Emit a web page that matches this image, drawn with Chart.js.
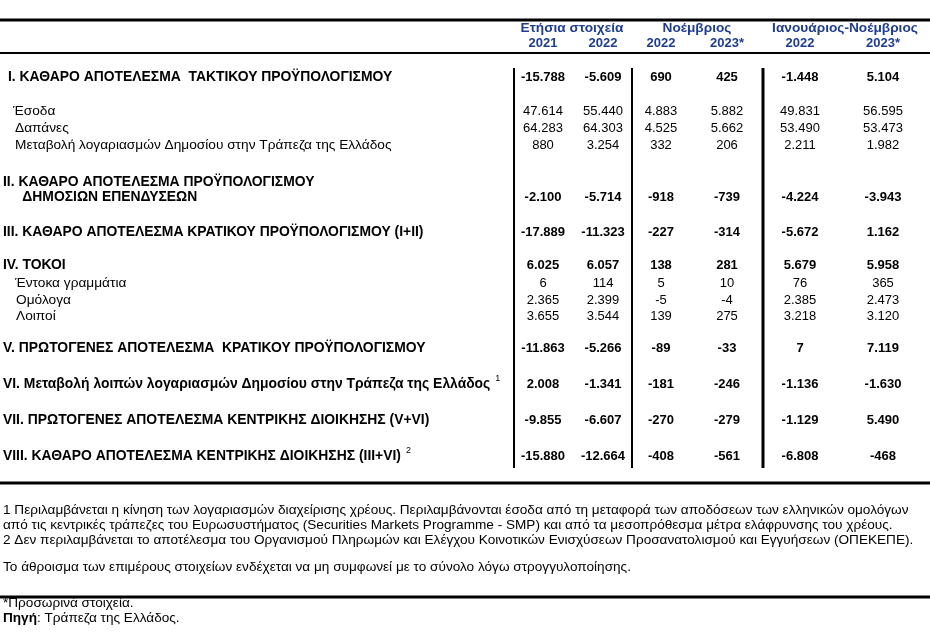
<!DOCTYPE html>
<html>
<head>
<meta charset="utf-8">
<script src="https://cdn.jsdelivr.net/npm/chart.js@4"></script>
<style>
  body { margin: 0; background: #fff; }
  #wrap { width: 930px; height: 632px; }
</style>
</head>
<body>
<div id="wrap"><canvas id="tbl" width="930" height="632"></canvas></div>
<script>
// Table contents (million euro)
const groupHeaders = ['Ετήσια στοιχεία', 'Νοέμβριος', 'Ιανουάριος-Νοέμβριος'];
const yearHeaders = ['2021', '2022', '2022', '2023*', '2022', '2023*'];

const rowLabels = [
  'I. ΚΑΘΑΡΟ ΑΠΟΤΕΛΕΣΜΑ  ΤΑΚΤΙΚΟΥ ΠΡΟΫΠΟΛΟΓΙΣΜΟΥ',
  'Έσοδα',
  'Δαπάνες',
  'Μεταβολή λογαριασμών Δημοσίου στην Τράπεζα της Ελλάδος',
  'II. ΚΑΘΑΡΟ ΑΠΟΤΕΛΕΣΜΑ ΠΡΟΫΠΟΛΟΓΙΣΜΟΥ\n     ΔΗΜΟΣΙΩΝ ΕΠΕΝΔΥΣΕΩΝ',
  'III. ΚΑΘΑΡΟ ΑΠΟΤΕΛΕΣΜΑ ΚΡΑΤΙΚΟΥ ΠΡΟΫΠΟΛΟΓΙΣΜΟΥ (I+II)',
  'IV. ΤΟΚΟΙ',
  'Έντοκα γραμμάτια',
  'Ομόλογα',
  'Λοιποί',
  'V. ΠΡΩΤΟΓΕΝΕΣ ΑΠΟΤΕΛΕΣΜΑ  ΚΡΑΤΙΚΟΥ ΠΡΟΫΠΟΛΟΓΙΣΜΟΥ',
  'VI. Μεταβολή λοιπών λογαριασμών Δημοσίου στην Τράπεζα της Ελλάδος',
  'VII. ΠΡΩΤΟΓΕΝΕΣ ΑΠΟΤΕΛΕΣΜΑ ΚΕΝΤΡΙΚΗΣ ΔΙΟΙΚΗΣΗΣ (V+VI)',
  'VIII. ΚΑΘΑΡΟ ΑΠΟΤΕΛΕΣΜΑ ΚΕΝΤΡΙΚΗΣ ΔΙΟΙΚΗΣΗΣ (III+VI)'
];
const rowNotes = ['', '', '', '', '', '', '', '', '', '', '', '1', '', '2'];
const rowBold = [true, false, false, false, true, true, true, false, false, false, true, true, true, true];

const annual2021 = [-15788, 47614, 64283, 880, -2100, -17889, 6025, 6, 2365, 3655, -11863, 2008, -9855, -15880];
const annual2022 = [-5609, 55440, 64303, 3254, -5714, -11323, 6057, 114, 2399, 3544, -5266, -1341, -6607, -12664];
const nov2022 = [690, 4883, 4525, 332, -918, -227, 138, 5, -5, 139, -89, -181, -270, -408];
const nov2023 = [425, 5882, 5662, 206, -739, -314, 281, 10, -4, 275, -33, -246, -279, -561];
const janNov2022 = [-1448, 49831, 53490, 2211, -4224, -5672, 5679, 76, 2385, 3218, 7, -1136, -1129, -6808];
const janNov2023 = [5104, 56595, 53473, 1982, -3943, 1162, 5958, 365, 2473, 3120, 7119, -1630, 5490, -468];
const columns = [annual2021, annual2022, nov2022, nov2023, janNov2022, janNov2023];

const footnotes = [
  '1 Περιλαμβάνεται η κίνηση των λογαριασμών διαχείρισης χρέους. Περιλαμβάνονται έσοδα από τη μεταφορά των αποδόσεων των ελληνικών ομολόγων',
  'από τις κεντρικές τράπεζες του Ευρωσυστήματος (Securities Markets Programme - SMP) και από τα μεσοπρόθεσμα μέτρα ελάφρυνσης του χρέους.',
  '2 Δεν περιλαμβάνεται το αποτέλεσμα του Οργανισμού Πληρωμών και Ελέγχου Κοινοτικών Ενισχύσεων Προσανατολισμού και Εγγυήσεων (ΟΠΕΚΕΠΕ).',
  '',
  'Το άθροισμα των επιμέρους στοιχείων ενδέχεται να μη συμφωνεί με το σύνολο λόγω στρογγυλοποίησης.'
];
const provisionalNote = '*Προσωρινά στοιχεία.';
const sourceLabel = 'Πηγή';
const sourceText = ': Τράπεζα της Ελλάδος.';

// Layout (page units = pixels on the 930x632 canvas)
const colX = [543, 603, 661, 727, 800, 883];
const groupX = [572, 697, 845];
const rowY = [77, 111, 128, 145, 197, 232, 265, 283, 300, 316, 348, 384, 420, 456];
const rowIndent = [8, 13, 15, 15, 3, 3, 3, 15, 16, 16, 3, 3, 3, 3];
const footY = [510, 525, 540, 554, 567];
const FONT = '"Liberation Sans", Arial, sans-serif';
const BLUE = '#1f3d8f';

function fmt(v) {
  const s = Math.abs(v).toString().replace(/\B(?=(\d{3})+(?!\d))/g, '.');
  return (v < 0 ? '-' : '') + s;
}

// one invisible point per table cell, text is painted at the point's pixel
const cellPoints = [];
columns.forEach((col, c) => {
  col.forEach((v, r) => {
    cellPoints.push({ x: colX[c], y: rowY[r], text: fmt(v), bold: rowBold[r], align: 'center', color: '#000', size: 13 });
  });
});
const labelPoints = [];
rowLabels.forEach((lab, r) => {
  const lines = lab.split('\n');
  lines.forEach((ln, i) => {
    labelPoints.push({ x: rowIndent[r], y: rowY[r] - (lines.length - 1 - i) * 15, text: ln, bold: rowBold[r], align: 'left', color: '#000',
      size: rowBold[r] ? 13.9 : 13.7, note: i === lines.length - 1 ? rowNotes[r] : '' });
  });
});
const headerPoints = [];
groupHeaders.forEach((h, i) => headerPoints.push({ x: groupX[i], y: 28, text: h, bold: true, align: 'center', color: BLUE, size: 13.7 }));
yearHeaders.forEach((h, i) => headerPoints.push({ x: colX[i], y: 43, text: h, bold: true, align: 'center', color: BLUE, size: 13 }));
const footPoints = [];
footnotes.forEach((t, i) => { if (t) footPoints.push({ x: 3, y: footY[i], text: t, bold: false, align: 'left', color: '#000', size: 13.6 }); });
footPoints.push({ x: 3, y: 603, text: provisionalNote, bold: false, align: 'left', color: '#000', size: 13.6 });
footPoints.push({ x: 3, y: 618, text: sourceLabel, bold: true, align: 'left', color: '#000', size: 13.6, tail: sourceText });

function rule(x1, y1, x2, y2, w) {
  return { type: 'line', data: [{ x: x1, y: y1 }, { x: x2, y: y2 }], borderColor: '#000', borderWidth: w,
    pointRadius: 0, fill: false, showLine: true, tension: 0 };
}

const textDatasets = [cellPoints, labelPoints, headerPoints, footPoints].map(d => ({
  type: 'scatter', data: d, pointRadius: 0, pointHoverRadius: 0, isText: true
}));

const textPlugin = {
  id: 'cellText',
  afterDatasetsDraw(chart) {
    const ctx = chart.ctx;
    ctx.save();
    ctx.textBaseline = 'middle';
    chart.data.datasets.forEach((ds, di) => {
      if (!ds.isText) return;
      const meta = chart.getDatasetMeta(di);
      meta.data.forEach((el, i) => {
        const p = ds.data[i];
        ctx.font = (p.bold ? 'bold ' : '') + p.size + 'px ' + FONT;
        ctx.fillStyle = p.color;
        ctx.textAlign = p.align;
        ctx.fillText(p.text, el.x, el.y);
        let end = el.x + ctx.measureText(p.text).width;
        if (p.tail) {
          ctx.font = p.size + 'px ' + FONT;
          ctx.fillText(p.tail, end, el.y);
        }
        if (p.note) {
          ctx.font = '9px ' + FONT;
          ctx.fillText(p.note, end + 5, el.y - 5);
        }
      });
    });
    ctx.restore();
  }
};

new Chart(document.getElementById('tbl'), {
  type: 'scatter',
  data: {
    datasets: [
      rule(0, 20, 930, 20, 3),
      rule(0, 53, 930, 53, 2),
      rule(514, 68, 514, 468, 2),
      rule(632, 68, 632, 468, 2),
      rule(763, 68, 763, 468, 3),
      rule(0, 483, 930, 483, 3),
      rule(0, 597, 930, 597, 3),
      ...textDatasets
    ]
  },
  options: {
    responsive: false,
    animation: false,
    events: [],
    layout: { padding: 0 },
    plugins: { legend: { display: false }, tooltip: { enabled: false } },
    scales: {
      x: { type: 'linear', min: 0, max: 930, display: false },
      y: { type: 'linear', min: 0, max: 632, reverse: true, display: false }
    }
  },
  plugins: [textPlugin]
});
</script>
</body>
</html>
